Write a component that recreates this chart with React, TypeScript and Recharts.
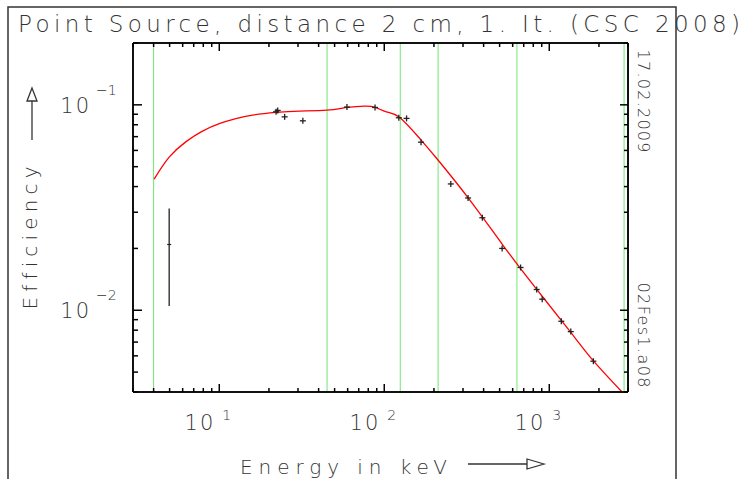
import React from 'react';
import { ComposedChart, Line, Scatter, XAxis, YAxis, ReferenceLine, ErrorBar } from 'recharts';

// fitted efficiency curve
const curveEnergy = [4.03, 4.97, 6.29, 7.91, 10, 12.6, 15.9, 22.1, 30.6, 44.9, 59.7, 76, 88.5, 103, 124, 164, 208, 331, 527, 842, 1343, 1858, 2743];
const curveEff = [0.0435, 0.0556, 0.0662, 0.0745, 0.081, 0.0857, 0.0891, 0.0918, 0.0932, 0.0942, 0.0971, 0.0986, 0.0971, 0.0925, 0.0868, 0.0686, 0.0548, 0.0343, 0.0206, 0.0126, 0.00784, 0.00565, 0.00402];

// measured points
const pointEnergy = [22.1, 22.6, 24.9, 32.1, 59.4, 87.9, 122.5, 136.5, 167, 253, 322, 393, 518, 670, 839, 906, 1183, 1350, 1850];
const pointEff = [0.0925, 0.0939, 0.0874, 0.0836, 0.0975, 0.0971, 0.0865, 0.0859, 0.0658, 0.0412, 0.0352, 0.0282, 0.02, 0.01615, 0.01262, 0.01132, 0.00884, 0.00787, 0.00565];

// low energy point with error bar
const lowEnergy = [4.97];
const lowEff = [0.0209];
const lowErr = [0.0104];

// green markers
const markerEnergy = [4, 45, 125, 212, 637, 2840];

const xTicks = [3, 4, 5, 6, 7, 8, 9, 10, 20, 30, 40, 50, 60, 70, 80, 90, 100, 200, 300, 400, 500, 600, 700, 800, 900, 1000, 2000, 3000];
const yTicks = [0.004, 0.005, 0.006, 0.007, 0.008, 0.009, 0.01, 0.02, 0.03, 0.04, 0.05, 0.06, 0.07, 0.08, 0.09, 0.1, 0.2];

const curve = curveEnergy.map((e, i) => ({ energy: e, eff: curveEff[i] }));
const points = pointEnergy.map((e, i) => ({ energy: e, eff: pointEff[i] }));
const lowPoints = lowEnergy.map((e, i) => ({ energy: e, eff: lowEff[i], err: lowErr[i] }));

const FONT = '"DejaVu Sans", sans-serif';
const INK = '#333';
const TICK = '#000';
const noLig = { fontVariantLigatures: 'none' as const };

const isMajor = (v: number) => Math.abs(Math.log10(v) - Math.round(Math.log10(v))) < 1e-6;
const expo = (v: number) => {
  const n = Math.round(Math.log10(v));
  return n < 0 ? '\u2212' + Math.abs(n) : String(n);
};

function BottomTick(props: any) {
  const { x, y, payload } = props;
  const major = isMajor(payload.value);
  return (
    <g>
      <line x1={x} y1={y} x2={x} y2={y - (major ? 8 : 4)} stroke={TICK} strokeWidth={1.5} />
      {major && (
        <>
          <text x={x - 6} y={y + 38} textAnchor="end" fontSize={21} fontFamily={FONT} fontWeight={200} fill={INK}>
            1<tspan dx={2}>0</tspan>
          </text>
          <text x={x + 3} y={y + 28} fontSize={14} fontFamily={FONT} fontWeight={200} fill={INK}>{expo(payload.value)}</text>
        </>
      )}
    </g>
  );
}

function TopTick(props: any) {
  const { x, y, payload } = props;
  const major = isMajor(payload.value);
  return <line x1={x} y1={y} x2={x} y2={y + (major ? 8 : 4)} stroke={TICK} strokeWidth={1.5} />;
}

function LeftTick(props: any) {
  const { x, y, payload } = props;
  const major = isMajor(payload.value);
  return (
    <g>
      <line x1={x} y1={y} x2={x + (major ? 9 : 5)} y2={y} stroke={TICK} strokeWidth={1.5} />
      {major && (
        <>
          <text x={x - 44} y={y + 8} textAnchor="end" fontSize={21} fontFamily={FONT} fontWeight={200} fill={INK}>
            1<tspan dx={2}>0</tspan>
          </text>
          <text x={x - 37} y={y - 10} fontSize={14} fontFamily={FONT} fontWeight={200} fill={INK}>{expo(payload.value)}</text>
        </>
      )}
    </g>
  );
}

function RightTick(props: any) {
  const { x, y, payload } = props;
  const major = isMajor(payload.value);
  return <line x1={x} y1={y} x2={x - (major ? 8 : 4)} y2={y} stroke={TICK} strokeWidth={1.5} />;
}

function Plus({ cx, cy }: any) {
  return (
    <g stroke="#222" strokeWidth={1.3}>
      <line x1={cx - 3} y1={cy} x2={cx + 3} y2={cy} />
      <line x1={cx} y1={cy - 3} x2={cx} y2={cy + 3} />
    </g>
  );
}

function SmallPlus({ cx, cy }: any) {
  return (
    <g stroke="#222" strokeWidth={1.2}>
      <line x1={cx - 2} y1={cy} x2={cx + 2} y2={cy} />
    </g>
  );
}

const axisLine = { stroke: '#111', strokeWidth: 2 };

export default function App() {
  return (
    <div style={{ position: 'absolute', left: 0, top: 0, width: 746, height: 479, background: '#fff', overflow: 'hidden' }}>
      <ComposedChart width={746} height={479} margin={{ top: 42, right: 117, bottom: 86, left: 132 }}>
        {markerEnergy.map((e) => (
          <ReferenceLine key={e} x={e} stroke="#6ee86e" strokeWidth={1} />
        ))}
        <Line data={curve} dataKey="eff" type="natural" stroke="#ff0000" strokeWidth={1.3} dot={false} isAnimationActive={false} />
        <Scatter data={points} dataKey="eff" shape={(p: any) => <Plus cx={p.cx} cy={p.cy} />} isAnimationActive={false} />
        <Scatter data={lowPoints} dataKey="eff" shape={(p: any) => <SmallPlus cx={p.cx} cy={p.cy} />} isAnimationActive={false}>
          <ErrorBar dataKey="err" direction="y" width={0} stroke="#222" strokeWidth={1.3} isAnimationActive={false} />
        </Scatter>
        <XAxis dataKey="energy" type="number" scale="log" domain={[3, 3000]} allowDataOverflow ticks={xTicks} interval={0}
          height={1} tickSize={0} tickMargin={0} tickLine={false} axisLine={axisLine} tick={<BottomTick />} />
        <XAxis xAxisId="top" orientation="top" dataKey="energy" type="number" scale="log" domain={[3, 3000]} allowDataOverflow ticks={xTicks} interval={0}
          height={1} tickSize={0} tickMargin={0} tickLine={false} axisLine={axisLine} tick={<TopTick />} />
        <YAxis dataKey="eff" type="number" scale="log" domain={[0.004, 0.2]} allowDataOverflow ticks={yTicks} interval={0}
          width={1} tickSize={0} tickMargin={0} tickLine={false} axisLine={axisLine} tick={<LeftTick />} />
        <YAxis yAxisId="right" orientation="right" dataKey="eff" type="number" scale="log" domain={[0.004, 0.2]} allowDataOverflow ticks={yTicks} interval={0}
          width={1} tickSize={0} tickMargin={0} tickLine={false} axisLine={axisLine} tick={<RightTick />} />
      </ComposedChart>
      <svg width={746} height={479} style={{ position: 'absolute', left: 0, top: 0, pointerEvents: 'none' }}>
        <path d="M8 495 V7 H676 V495" fill="none" stroke={INK} strokeWidth={1.5} />
        <text x={18} y={32} fontSize={23} fontFamily={FONT} fontWeight={200} fill={INK} textLength={722} lengthAdjust="spacing" style={noLig}>
          Point Source, distance 2 cm, 1. It. (CSC 2008)
        </text>
        <text transform="translate(37 238) rotate(-90)" textAnchor="middle" fontSize={20} fontFamily={FONT} fontWeight={200} fill={INK} textLength={143} lengthAdjust="spacing" style={noLig}>
          Efficiency
        </text>
        <line x1={32} y1={140} x2={32} y2={101} stroke={INK} strokeWidth={1.3} />
        <polygon points="32,88 27,101 37,101" fill="#fff" stroke={INK} strokeWidth={1.3} />
        <text x={240} y={474} fontSize={20} fontFamily={FONT} fontWeight={200} fill={INK} textLength={207} lengthAdjust="spacing" style={noLig}>
          Energy in keV
        </text>
        <line x1={468} y1={464} x2={527} y2={464} stroke={INK} strokeWidth={1.3} />
        <polygon points="544,464 527,459 527,469" fill="#fff" stroke={INK} strokeWidth={1.3} />
        <text transform="translate(638 101) rotate(90)" textAnchor="middle" fontSize={16} fontFamily={FONT} fontWeight={200} fill={INK} textLength={103} lengthAdjust="spacing">
          17.02.2009
        </text>
        <text transform="translate(638 335) rotate(90)" textAnchor="middle" fontSize={16} fontFamily={FONT} fontWeight={200} fill={INK} textLength={105} lengthAdjust="spacing">
          02Fes1.a08
        </text>
      </svg>
    </div>
  );
}
